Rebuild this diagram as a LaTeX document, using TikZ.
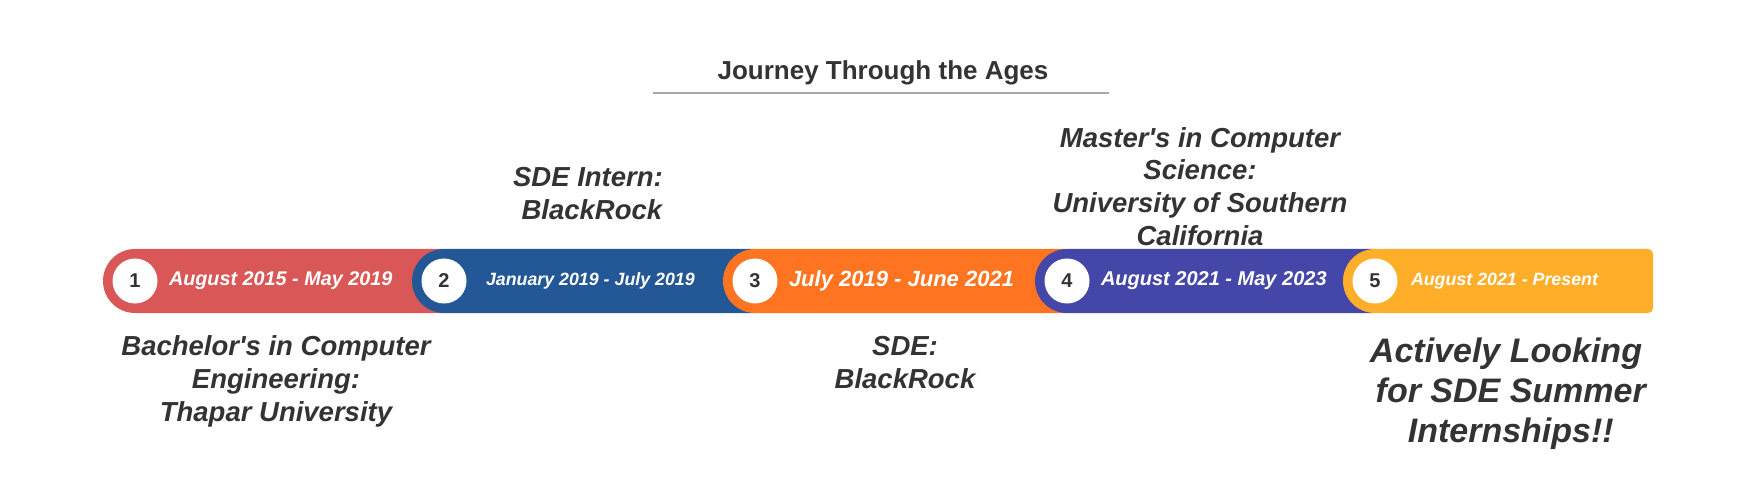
\documentclass[tikz,border=0pt]{standalone}
\usepackage{fontspec}
\setmainfont{Liberation Sans}
\usetikzlibrary{positioning}
\definecolor{cRed}{HTML}{D95757}
\definecolor{cBlue}{HTML}{235796}
\definecolor{cOrange}{HTML}{FF7420}
\definecolor{cIndigo}{HTML}{4447A8}
\definecolor{cYellow}{HTML}{FFAE29}
\definecolor{cText}{HTML}{333333}
\definecolor{cLine}{HTML}{A5A9B3}

\begin{document}
\begin{tikzpicture}[x=0.5pt, y=-0.5pt,
  numdot/.style={circle, fill=white, minimum size=22.5pt, inner sep=0pt, outer sep=0pt,
                 font=\fontsize{10}{12}\selectfont\bfseries, text=cText},
  datetxt/.style={inner sep=0pt, outer sep=0pt, text=white,
                  font=\fontsize{#1}{#1}\selectfont\bfseries\itshape},
  lbl/.style={anchor=north, inner sep=0pt, align=center, text=cText,
              font=\fontsize{13.75}{16.6}\selectfont\bfseries\itshape},
]
\useasboundingbox (0,0) rectangle (1760,497);
\node[font=\fontsize{13}{15}\selectfont\bfseries, text=cText, anchor=base] (ttl) at (883,80) {Journey Through the Ages};
\draw[cLine, line width=1pt] (653,93) -- (1109,93);
\foreach \cx/\nx/\col in {135/444/cRed, 444/755/cBlue, 755/1067/cOrange, 1067/1375/cIndigo}
  \fill[\col] (\cx,281) circle[radius=16pt] (\cx,249) rectangle (\nx,313);
\fill[cYellow] (1375,281) circle[radius=16pt];
\fill[cYellow, rounded corners=2.5pt] (1375,249) rectangle (1653,313);
\foreach \i/\cx in {1/135, 2/444, 3/755, 4/1067, 5/1375}
  \node[numdot] (c\i) at (\cx,281) {\i};
\node[datetxt=9.9, right=5.75pt of c1] (d1) {August 2015 - May 2019};
\node[datetxt=8.9, right=9.75pt of c2] (d2) {January 2019 - July 2019};
\node[datetxt=11, right=5.75pt of c3] (d3) {July 2019 - June 2021};
\node[datetxt=10, right=5.75pt of c4] (d4) {August 2021 - May 2023};
\node[datetxt=8.9, right=6.75pt of c5] (d5) {August 2021 - Present};
\node[lbl] (l1) at (276,335) {Bachelor\textquotesingle s in Computer\\Engineering:\\Thapar University};
\node[lbl] (l2) at (588,167) {SDE Intern:\\\hspace*{0.28em}BlackRock};
\node[lbl] (l3) at (905,336) {SDE:\\BlackRock};
\node[lbl, font=\fontsize{13.75}{16.3}\selectfont\bfseries\itshape] (l4) at (1200,127) {Master\textquotesingle s in Computer\\Science:\\University of Southern\\California};
\node[lbl, font=\fontsize{17}{20.2}\selectfont\bfseries\itshape] (l5) at (1506,337) {Actively Looking\\\hspace*{0.28em}for SDE Summer\\\hspace*{0.28em}Internships!!};
\end{tikzpicture}
\end{document}
